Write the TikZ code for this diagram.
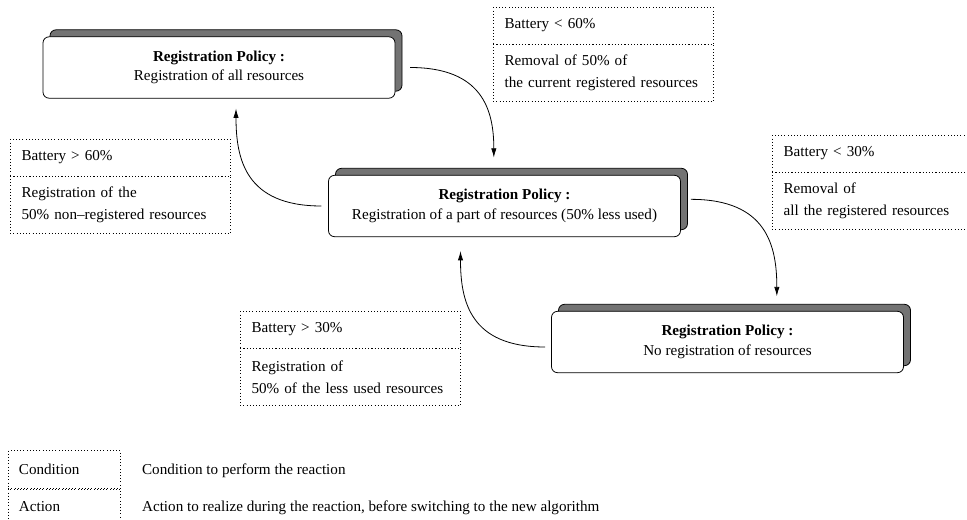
\documentclass[tikz,border=0pt]{standalone}
\usepackage{fontspec}
\setmainfont{Liberation Serif}
\usetikzlibrary{positioning,shadows,arrows.meta}
\begin{document}
\begin{tikzpicture}[x=0.75pt,y=-0.75pt,
  font=\fontsize{11.35pt}{16.5pt}\selectfont,
  policy/.style={draw,line width=0.6pt,fill=white,rounded corners=4.5pt,
    minimum width=264pt,minimum height=46pt,align=center,
    font=\fontsize{11.35pt}{14.5pt}\selectfont,
    copy shadow={shadow xshift=5.25pt,shadow yshift=5.25pt,fill=black!55,draw=black,line width=0.6pt}},
  cond/.style={draw,dotted,text width=148pt,inner xsep=8.5pt,minimum height=27.5pt,align=left},
  act/.style={cond,minimum height=42.5pt},
  key/.style={draw,dotted,text width=68pt,inner xsep=8pt,minimum height=28.5pt,align=left},
  flow/.style={-{Latex[length=7pt,width=4pt]},line width=0.6pt}]
\useasboundingbox (0,0) rectangle (967,520);
\node[policy] (regall) at (219,67.5) {\textbf{Registration Policy :}\\Registration of all resources};
\node[policy] (regpart) at (504.5,206) {\textbf{Registration Policy :}\\Registration of a part of resources (50\% less used)};
\node[policy] (regnone) at (727.5,342) {\textbf{Registration Policy :}\\No registration of resources};
\node[cond,anchor=north west] (cond60low) at (493,7) {Battery < 60\%};
\node[act,below=0pt of cond60low] (act60low) {Removal of 50\% of\\the current registered resources};
\node[cond,anchor=north west] (cond60high) at (10,139) {Battery > 60\%};
\node[act,below=0pt of cond60high] (act60high) {Registration of the\\50\% non--registered resources};
\node[cond,anchor=north west] (cond30low) at (772,135) {Battery < 30\%};
\node[act,below=0pt of cond30low] (act30low) {Removal of\\all the registered resources};
\node[cond,anchor=north west] (cond30high) at (240,311) {Battery > 30\%};
\node[act,below=0pt of cond30high] (act30high) {Registration of\\50\% of the less used resources};
\draw[flow] ([xshift=11pt]regall.east) to[out=0,in=90,out looseness=1.5] ([xshift=-8pt,yshift=13pt]regpart.north);
\draw[flow] ([xshift=7.5pt,yshift=5pt]regpart.east) to[out=0,in=90,out looseness=1.5] ([xshift=37pt,yshift=11pt]regnone.north);
\draw[flow] ([xshift=-4.5pt,yshift=-3.75pt]regnone.west) to[out=180,in=-90,out looseness=1.5] ([xshift=-33pt,yshift=-10.5pt]regpart.south);
\draw[flow] ([xshift=-5pt]regpart.west) to[out=180,in=-90,out looseness=1.5] ([xshift=12.75pt,yshift=-7.5pt]regall.south);
\node[key,anchor=north west] (keycond) at (8,450) {Condition};
\node[key,below=0pt of keycond,minimum height=26pt] (keyact) {Action};
\node[base right=16pt of keycond,inner sep=0pt] (desccond) {Condition to perform the reaction};
\node[base right=16pt of keyact,inner sep=0pt] (descact) {Action to realize during the reaction, before switching to the new algorithm};
\end{tikzpicture}
\end{document}
